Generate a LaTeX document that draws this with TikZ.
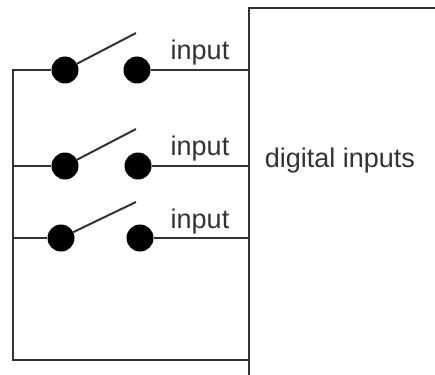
\documentclass[tikz,border=0pt]{standalone}
\usepackage{fontspec}
\setmainfont{Liberation Sans}
\tikzset{
 wire/.style={line width=2pt,color=black!80},
 term/.style={circle,fill=black,minimum size=27pt,inner sep=0pt},
 lbl/.style={font=\fontsize{27}{29}\selectfont,inner sep=0pt,text=black!80},
}
\begin{document}
\begin{tikzpicture}[x=1pt,y=-1pt]
\useasboundingbox (0,0) rectangle (435,374);
\node[draw=black!80,line width=2pt,minimum width=190pt,minimum height=374pt,anchor=north west,inner sep=0pt] (box) at (248,7) {};
\node[lbl] (dig) at (340,161) {digital inputs};
\node[term] (a1) at (65,70) {};
\node[term] (b1) at (137,70) {};
\node[term] (a2) at (65,166) {};
\node[term] (b2) at (138,166) {};
\node[term] (a3) at (61,238) {};
\node[term] (b3) at (140,238) {};
\coordinate (t1) at (136,33);
\coordinate (t2) at (136,129);
\coordinate (t3) at (136,202);
\coordinate (c1) at (13,70);
\coordinate (c2) at (13,166);
\coordinate (c3) at (13,238);
\coordinate (c4) at (13,360);
\coordinate (e1) at (248,70);
\coordinate (e2) at (248,166);
\coordinate (e3) at (248,238);
\coordinate (e4) at (248,360);
\draw[wire] (a1) -- (c1) -- (c4) -- (e4);
\draw[wire] (a2) -- (c2);
\draw[wire] (a3) -- (c3);
\draw[wire] (b1) -- (e1);
\draw[wire] (b2) -- (e2);
\draw[wire] (b3) -- (e3);
\draw[wire] (a1) -- (t1);
\draw[wire] (a2) -- (t2);
\draw[wire] (a3) -- (t3);
\node[lbl] (i1) at (200,53) {input};
\node[lbl] (i2) at (200,149) {input};
\node[lbl] (i3) at (200,222) {input};
\end{tikzpicture}
\end{document}
